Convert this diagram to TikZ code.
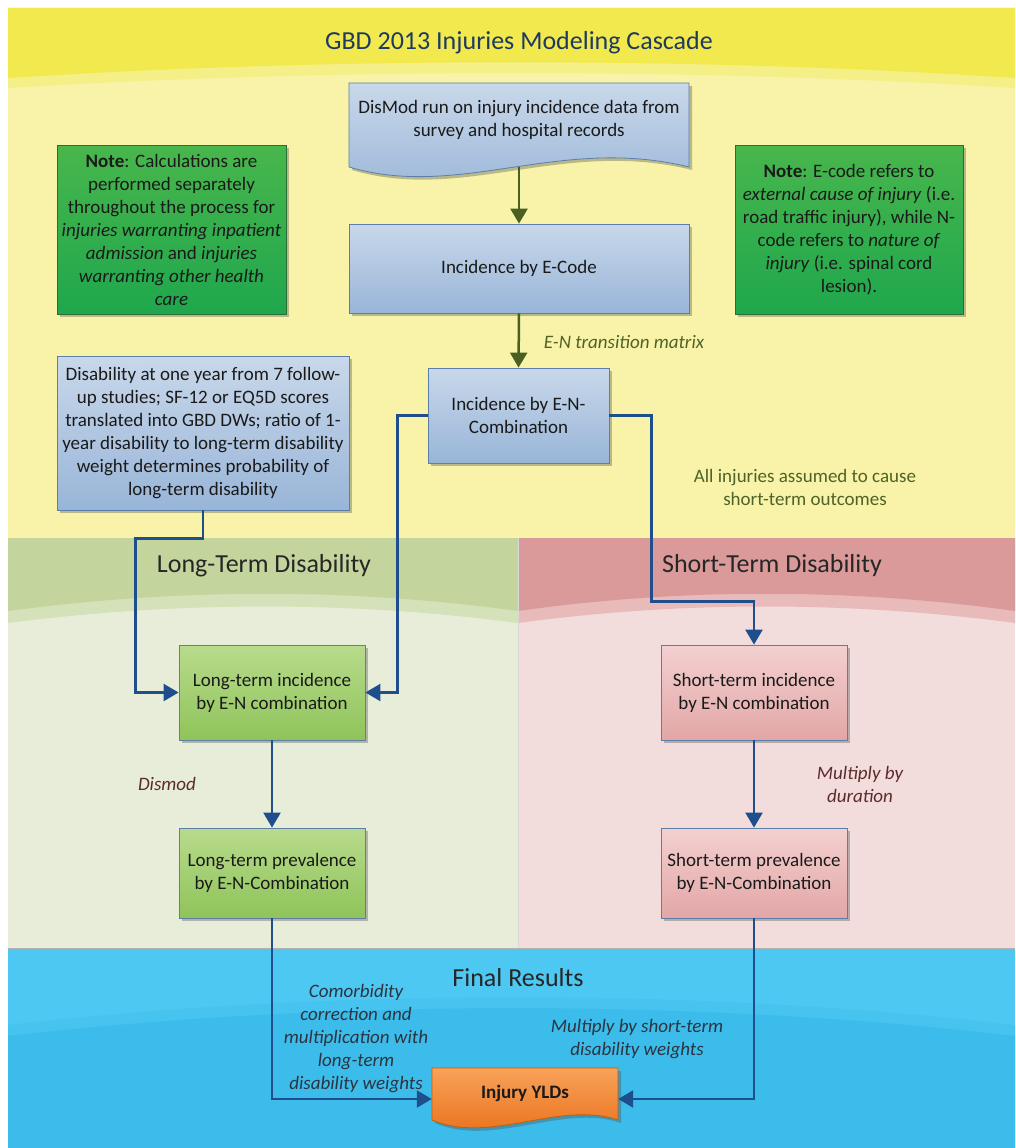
\documentclass[tikz,border=0pt]{standalone}
\usepackage{fontspec}
\setmainfont{Carlito}
\usetikzlibrary{arrows.meta,shadows,calc}
\definecolor{yldark}{HTML}{F2E94E}
\definecolor{ylmid}{HTML}{F5EF88}
\definecolor{ylpale}{HTML}{F8F3A8}
\definecolor{grdark}{HTML}{C3D59D}
\definecolor{grmid}{HTML}{D4E1B9}
\definecolor{grpale}{HTML}{E8EDD9}
\definecolor{pkdark}{HTML}{DB9A9A}
\definecolor{pkmid}{HTML}{E9BABA}
\definecolor{pkpale}{HTML}{F3DCDC}
\definecolor{blup}{HTML}{4DC8F2}
\definecolor{blmid}{HTML}{46C3EF}
\definecolor{bllow}{HTML}{3CBCEA}
\definecolor{bxbluetop}{HTML}{C9D8EA}
\definecolor{bxbluebot}{HTML}{98B5D8}
\definecolor{bxblueline}{HTML}{5B7FA8}
\definecolor{notetop}{HTML}{48B64C}
\definecolor{notebot}{HTML}{1FA74D}
\definecolor{noteline}{HTML}{2B6E33}
\definecolor{lgtop}{HTML}{B8DB8C}
\definecolor{lgbot}{HTML}{8FC45A}
\definecolor{pktop}{HTML}{F3D0D0}
\definecolor{pkbot}{HTML}{E3A6A6}
\definecolor{ortop}{HTML}{F8A25A}
\definecolor{orbot}{HTML}{E86A12}
\definecolor{orline}{HTML}{C0600E}
\definecolor{connblue}{HTML}{1F4E8C}
\definecolor{conngreen}{HTML}{4A5F22}
\definecolor{olivetxt}{HTML}{4F6228}
\definecolor{browntxt}{HTML}{5C2B2B}
\definecolor{slatetxt}{HTML}{2B3440}
\definecolor{titlenavy}{HTML}{1F3A60}
\definecolor{boxtxt}{HTML}{1A1A1A}
\newcommand\myBody{\fontsize{19}{23}\selectfont}
\newcommand\myTitle{\fontsize{26}{30}\selectfont}
\begin{document}
\begin{tikzpicture}[x=1pt,y=-1pt,
  shadowed/.style={drop shadow={shadow xshift=3pt,shadow yshift=-3pt,opacity=0.35,fill=black!70}},
  basebox/.style={shadowed,line width=0.8pt,align=center,font=\myBody,text=boxtxt,inner sep=0pt},
  bluebox/.style={basebox,draw=bxblueline,top color=bxbluetop,bottom color=bxbluebot},
  notebox/.style={basebox,draw=noteline,top color=notetop,bottom color=notebot},
  ltbox/.style={basebox,draw=bxblueline,top color=lgtop,bottom color=lgbot,minimum width=186pt},
  stbox/.style={basebox,draw=bxblueline,top color=pktop,bottom color=pkbot,minimum width=186pt},
  conn/.style={draw=connblue,line width=2.3pt,-{Triangle[width=17pt,length=15pt]}},
  gconn/.style={draw=conngreen,line width=2.5pt,-{Triangle[width=17pt,length=15pt]}},
  lbl/.style={align=center,inner sep=0pt,font=\myBody\itshape},
  sectitle/.style={inner sep=0pt,font=\myTitle,text=black!85}
]
\useasboundingbox (0,0) rectangle (1015,1148);
% ---------- backgrounds ----------
\fill[white] (0,0) rectangle (1015,1148);
\fill[ylpale] (8,8) rectangle (1015,538);
\fill[ylmid] (8,8) -- (1015,8) -- (1015,88) .. controls (700,68) and (330,68) .. (8,88) -- cycle;
\fill[yldark] (8,8) -- (1015,8) -- (1015,78) .. controls (700,57) and (330,57) .. (8,78) -- cycle;
\fill[grpale] (8,538) rectangle (518,948);
\fill[grmid] (8,538) -- (518,538) -- (518,623) .. controls (350,601) and (180,601) .. (8,623) -- cycle;
\fill[grdark] (8,538) -- (518,538) -- (518,611) .. controls (350,588) and (180,588) .. (8,611) -- cycle;
\fill[pkpale] (518,538) rectangle (1015,948);
\fill[pkmid] (518,538) -- (1015,538) -- (1015,623) .. controls (850,601) and (680,601) .. (518,623) -- cycle;
\fill[pkdark] (518,538) -- (1015,538) -- (1015,611) .. controls (850,588) and (680,588) .. (518,611) -- cycle;
\draw[black!15,line width=1pt] (518,538) -- (518,948);
\fill[blup] (8,948) rectangle (1015,1148);
\fill[blmid] (8,1148) -- (8,1025) .. controls (330,988) and (700,988) .. (1015,1025) -- (1015,1148) -- cycle;
\fill[bllow] (8,1148) -- (8,1036) .. controls (330,999) and (700,999) .. (1015,1036) -- (1015,1148) -- cycle;
\draw[black!30,line width=1.5pt] (8,948.5) -- (1015,948.5);
% ---------- titles ----------
\node[inner sep=0pt,font=\myTitle,text=titlenavy] (title) at (519,43) {GBD 2013 Injuries Modeling Cascade};
\node[sectitle] (lttitle) at (264,566) {Long-Term Disability};
\node[sectitle] (sttitle) at (772,566) {Short-Term Disability};
\node[sectitle] (frtitle) at (518,978) {Final Results};
% ---------- document shape: DisMod ----------
\fill[black!70,opacity=0.35] (352,86) -- (692,86) -- (692,170) .. controls (563,138) and (463,203) .. (352,170) -- cycle;
\shade[top color=bxbluetop,bottom color=bxbluebot] (349,83) -- (689,83) -- (689,167) .. controls (560,135) and (460,200) .. (349,167) -- cycle;
\draw[bxblueline,line width=0.8pt] (349,83) -- (689,83) -- (689,167) .. controls (560,135) and (460,200) .. (349,167) -- cycle;
\node[align=center,inner sep=0pt,font=\myBody,text=boxtxt,minimum width=340pt,minimum height=94pt] (dismod) at (519,120)
  {DisMod run on injury incidence data from\\survey and hospital records};
% ---------- boxes ----------
\node[bluebox,minimum width=340pt,minimum height=89pt] (ecode) at (519,268.5) {Incidence by E-Code};
\node[bluebox,minimum width=181pt,minimum height=95pt] (en) at (518.5,415.5) {Incidence by E-N-\\Combination};
\node[bluebox,minimum width=292pt,minimum height=154pt] (disab) at (203,433)
  {Disability at one year from 7 follow-\\up studies; SF-12 or EQ5D scores\\translated into GBD DWs; ratio of 1-\\year disability to long-term disability\\weight determines probability of\\long-term disability};
\node[notebox,minimum width=229pt,minimum height=169pt] (noteL) at (171.5,229.5)
  {\textbf{Note}: Calculations are\\performed separately\\throughout the process for\\\textit{injuries warranting inpatient}\\\textit{admission} and \textit{injuries}\\\textit{warranting other health}\\\textit{care}};
\node[notebox,minimum width=228pt,minimum height=169pt] (noteR) at (849,229.5)
  {\textbf{Note}: E-code refers to\\\textit{external cause of injury} (i.e.\\road traffic injury), while N-\\code refers to \textit{nature of}\\\textit{injury} (i.e. spinal cord\\lesion).};
\node[ltbox,minimum height=95pt] (ltinc) at (272,692.5) {Long-term incidence\\by E-N combination};
\node[ltbox,minimum height=90pt] (ltprev) at (272,873) {Long-term prevalence\\by E-N-Combination};
\node[stbox,minimum height=95pt] (stinc) at (754,692.5) {Short-term incidence\\by E-N combination};
\node[stbox,minimum height=90pt] (stprev) at (754,873) {Short-term prevalence\\by E-N-Combination};
% ---------- document shape: Injury YLDs ----------
\fill[black!70,opacity=0.35] (435,1071) -- (621,1071) -- (621,1123) .. controls (563,1103) and (493,1148) .. (435,1123) -- cycle;
\shade[top color=ortop,bottom color=orbot] (432,1068) -- (618,1068) -- (618,1120) .. controls (560,1100) and (490,1145) .. (432,1120) -- cycle;
\draw[orline,line width=0.8pt] (432,1068) -- (618,1068) -- (618,1120) .. controls (560,1100) and (490,1145) .. (432,1120) -- cycle;
\node[inner sep=0pt,font=\myBody\bfseries,text=boxtxt,minimum width=186pt,minimum height=50pt] (ylds) at (525,1093) {Injury YLDs};
% ---------- connectors ----------
\draw[gconn] (dismod.south) -- (ecode.north);
\draw[gconn] (ecode.south) -- (en.north);
\draw[conn] (disab.south) -- ++(0,28) -| ([xshift=-43pt]ltinc.west) -- (ltinc.west);
\draw[conn] (en.west) -| ([xshift=32pt]ltinc.east) -- (ltinc.east);
\draw[conn] (en.east) -- ++(42,0) |- ([yshift=43pt]stinc.north) -- (stinc.north);
\draw[conn] (ltinc.south) -- (ltprev.north);
\draw[conn] (stinc.south) -- (stprev.north);
\draw[conn] (ltprev.south) |- ([yshift=-6pt]ylds.west);
\draw[conn] (stprev.south) |- ([yshift=-6pt]ylds.east);
% ---------- labels ----------
\node[lbl,text=olivetxt] (lblEN) at (624,342) {E-N transition matrix};
\node[align=center,inner sep=0pt,font=\myBody,text=olivetxt] (lblAll) at (805,487) {All injuries assumed to cause\\short-term outcomes};
\node[lbl,text=browntxt] (lblDismod) at (167,784) {Dismod};
\node[lbl,text=browntxt] (lblDur) at (860,784) {Multiply by\\duration};
\node[lbl,text=slatetxt] (lblComorb) at (356,1039) {Comorbidity\\correction and\\multiplication with\\long-term\\disability weights};
\node[lbl,text=slatetxt] (lblShortW) at (637,1039) {Multiply by short-term\\disability weights};
\end{tikzpicture}
\end{document}
